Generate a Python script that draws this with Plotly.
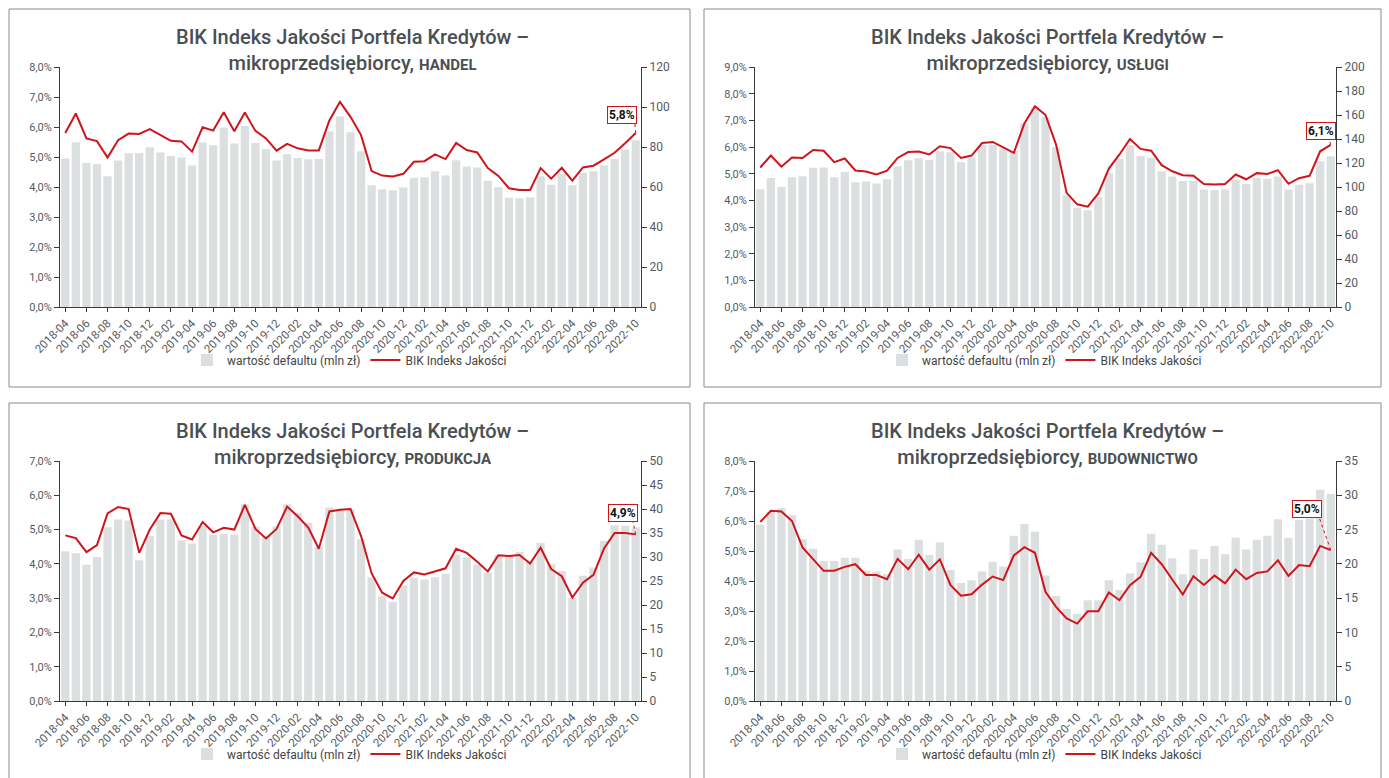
import plotly.graph_objects as go

W, H = 1389, 778

months = []
for y in range(2018, 2023):
    for m in range(1, 13):
        if (y == 2018 and m < 4) or (y == 2022 and m > 10):
            continue
        months.append(f"{y}-{m:02d}")
tick_labels = months[::2]

handel_bars = [74.2, 82.4, 72.0, 71.5, 65.4, 73.2, 76.9, 77.0, 79.9, 77.2, 75.5, 74.7, 70.7, 82.2,
               80.9, 89.7, 81.7, 90.5, 82.0, 79.0, 73.2, 76.4, 74.5, 73.9, 74.0, 87.9, 95.3, 87.4,
               77.9, 60.9, 58.9, 58.4, 59.7, 64.6, 64.9, 67.9, 65.7, 73.4, 70.2, 69.7, 63.1, 59.9,
               54.6, 54.4, 54.9, 65.4, 61.1, 66.6, 60.9, 67.1, 67.9, 70.9, 74.0, 78.9, 83.4]
handel_idx = [5.80, 6.45, 5.62, 5.53, 4.98, 5.56, 5.78, 5.77, 5.93, 5.74, 5.54, 5.52, 5.18, 5.99,
              5.88, 6.49, 5.86, 6.48, 5.87, 5.62, 5.21, 5.44, 5.29, 5.22, 5.22, 6.22, 6.84, 6.34,
              5.73, 4.53, 4.38, 4.35, 4.44, 4.84, 4.86, 5.09, 4.93, 5.47, 5.23, 5.15, 4.63, 4.37,
              3.96, 3.90, 3.90, 4.63, 4.28, 4.64, 4.21, 4.65, 4.71, 4.92, 5.14, 5.46, 5.80]

uslugi_bars = [98.2, 107.4, 99.9, 108.2, 109.0, 116.0, 116.2, 108.2, 112.6, 104.0, 104.6, 102.9, 106.5, 117.3,
               122.3, 124.0, 122.6, 129.8, 129.0, 120.7, 124.3, 134.8, 135.1, 132.3, 130.1, 153.1, 166.4, 158.4,
               132.9, 93.2, 82.7, 80.7, 91.8, 111.8, 123.4, 134.8, 125.9, 124.3, 113.2, 108.7, 105.1, 105.1,
               97.9, 97.4, 97.9, 106.2, 102.4, 107.6, 106.8, 108.7, 97.9, 101.8, 103.2, 121.5, 125.7]
uslugi_idx = [5.23, 5.68, 5.26, 5.61, 5.59, 5.89, 5.86, 5.43, 5.57, 5.12, 5.08, 4.97, 5.11, 5.59,
              5.81, 5.83, 5.72, 6.03, 5.96, 5.59, 5.68, 6.15, 6.19, 5.98, 5.78, 6.88, 7.53, 7.20,
              6.09, 4.28, 3.85, 3.76, 4.26, 5.19, 5.72, 6.30, 5.93, 5.86, 5.32, 5.09, 4.94, 4.92,
              4.61, 4.59, 4.61, 4.97, 4.79, 5.02, 4.99, 5.13, 4.62, 4.83, 4.92, 5.84, 6.08]

produkcja_bars = [31.2, 30.8, 28.4, 30.0, 36.2, 37.8, 37.6, 29.3, 34.4, 37.8, 37.8, 33.5, 32.8, 36.5,
                  34.6, 34.8, 34.7, 41.0, 36.3, 34.4, 36.4, 41.0, 39.2, 37.1, 32.1, 40.3, 39.8, 39.9,
                  33.7, 25.8, 21.8, 20.7, 24.1, 25.7, 25.3, 25.8, 26.5, 30.5, 29.9, 28.4, 26.7, 30.4,
                  30.2, 31.1, 29.1, 32.9, 28.5, 27.1, 21.5, 26.1, 27.8, 33.4, 36.6, 36.5, 36.2]
produkcja_idx = [4.83, 4.75, 4.34, 4.55, 5.47, 5.66, 5.60, 4.32, 5.00, 5.48, 5.46, 4.83, 4.71, 5.22,
                 4.92, 5.05, 5.00, 5.72, 5.02, 4.74, 5.02, 5.67, 5.39, 5.06, 4.44, 5.53, 5.58, 5.60,
                 4.81, 3.72, 3.16, 2.99, 3.50, 3.75, 3.69, 3.79, 3.87, 4.44, 4.32, 4.06, 3.78, 4.25,
                 4.23, 4.26, 4.01, 4.47, 3.85, 3.64, 3.02, 3.45, 3.68, 4.45, 4.90, 4.90, 4.86]

budownictwo_bars = [25.7, 27.6, 28.1, 27.1, 23.6, 22.2, 20.4, 20.4, 20.9, 20.9, 19.0, 18.9, 18.5, 22.1,
                    20.7, 23.5, 21.3, 23.1, 19.1, 17.2, 17.6, 18.9, 20.3, 19.6, 24.1, 25.8, 24.7, 18.3,
                    15.3, 13.4, 12.7, 14.7, 14.7, 17.6, 16.2, 18.6, 20.2, 24.4, 22.8, 20.8, 18.5, 22.1,
                    20.7, 22.6, 21.4, 23.8, 22.1, 23.5, 24.1, 26.5, 23.8, 26.4, 26.6, 30.8, 30.2]
budownictwo_idx = [5.97, 6.34, 6.32, 6.00, 5.12, 4.73, 4.34, 4.34, 4.47, 4.56, 4.20, 4.20, 4.06, 4.74,
                   4.39, 4.88, 4.38, 4.72, 3.87, 3.51, 3.56, 3.88, 4.15, 4.03, 4.85, 5.13, 4.94, 3.64,
                   3.14, 2.75, 2.58, 2.99, 2.99, 3.62, 3.36, 3.86, 4.14, 4.94, 4.56, 4.05, 3.55, 4.16,
                   3.87, 4.18, 3.92, 4.38, 4.06, 4.27, 4.32, 4.69, 4.17, 4.53, 4.49, 5.17, 5.03]

sectors = ["HANDEL", "USŁUGI", "PRODUKCJA", "BUDOWNICTWO"]
bar_name = "wartość defaultu (mln zł)"
line_name = "BIK Indeks Jakości"

FONT = "Roboto, 'DejaVu Sans', sans-serif"
BAR_COLOR = "#dcdfe0"
LINE_COLOR = "#d0141c"
TXT = "#555a5f"
AX = "#3a3a3a"

panels = [
    dict(bars=handel_bars, idx=handel_idx, pct_max=8, bar_max=120, bar_dtick=20,
         x0=60, x1=641, y0=67, y1=307, box=(9, 9, 690, 387), tcx=353, tcy=50, lcy=360,
         lab=(-14, 18), con=(-1, 11)),
    dict(bars=uslugi_bars, idx=uslugi_idx, pct_max=9, bar_max=200, bar_dtick=20,
         x0=755, x1=1336, y0=67, y1=307, box=(704, 9, 1381, 387), tcx=1047, tcy=50, lcy=360,
         lab=(-10, 14), con=(-2, 8)),
    dict(bars=produkcja_bars, idx=produkcja_idx, pct_max=7, bar_max=50, bar_dtick=5,
         x0=60, x1=641, y0=461, y1=701, box=(9, 403, 690, 800), tcx=353, tcy=444, lcy=754,
         lab=(-13, 21), con=(-3, 14)),
    dict(bars=budownictwo_bars, idx=budownictwo_idx, pct_max=8, bar_max=35, bar_dtick=5,
         x0=755, x1=1336, y0=461, y1=701, box=(704, 403, 1381, 800), tcx=1047, tcy=444, lcy=754,
         lab=(-24, 41), con=(-12, 34)),
]

def px(x):
    return x / W

def py(y):
    return 1 - y / H

fig = go.Figure()
layout = dict(
    width=W, height=H, margin=dict(l=0, r=0, t=0, b=0, pad=0, autoexpand=False),
    paper_bgcolor="white", plot_bgcolor="white",
    font=dict(family=FONT, size=11, color=TXT),
    separators=", ", bargap=0.22, showlegend=True,
)
annotations = []
shapes = []

for k, p in enumerate(panels, start=1):
    xa = "x" if k == 1 else f"x{k}"
    yb = "y" if k == 1 else f"y{2*k-1}"
    yl = f"y{2*k}"
    leg = "legend" if k == 1 else f"legend{k}"

    fig.add_trace(go.Bar(x=months, y=p["bars"], name=bar_name, marker_color=BAR_COLOR,
                         marker_line_width=0, xaxis=xa, yaxis=yb, legend=leg))
    fig.add_trace(go.Scatter(x=months, y=p["idx"], name=line_name, mode="lines",
                             line=dict(color=LINE_COLOR, width=2), xaxis=xa, yaxis=yl, legend=leg))

    xname = "xaxis" if k == 1 else f"xaxis{k}"
    ybname = "yaxis" if k == 1 else f"yaxis{2*k-1}"
    ylname = f"yaxis{2*k}"
    layout[xname] = dict(domain=[px(p["x0"]), px(p["x1"])], anchor=yb, type="category",
                         categoryorder="array", categoryarray=months,
                         tickmode="array", tickvals=tick_labels, ticktext=tick_labels,
                         tickangle=-45, showline=True, linecolor=AX, linewidth=1,
                         ticks="outside", ticklen=4, tickcolor=AX, showgrid=False,
                         automargin=False, tickfont=dict(size=11.5, color=TXT), fixedrange=True)
    layout[ybname] = dict(domain=[py(p["y1"]), py(p["y0"])], anchor=xa, side="right",
                          range=[0, p["bar_max"]], dtick=p["bar_dtick"], tick0=0,
                          showline=True, linecolor=AX, linewidth=1, ticks="outside",
                          ticklen=5, tickcolor=AX, showgrid=False, zeroline=False,
                          automargin=False, tickfont=dict(size=12, color=TXT))
    layout[ylname] = dict(overlaying=yb, anchor=xa, side="left",
                          range=[0, p["pct_max"]], dtick=1, tick0=0, tickformat=".1f",
                          ticksuffix="%", showline=True, linecolor=AX, linewidth=1,
                          ticks="outside", ticklen=5, tickcolor=AX, showgrid=False,
                          zeroline=False, automargin=False, tickfont=dict(size=11, color=TXT))
    layout[leg] = dict(orientation="h", x=px((p["x0"] + p["x1"]) / 2 - 1), y=py(p["lcy"]),
                       xanchor="center", yanchor="middle", bgcolor="rgba(0,0,0,0)",
                       font=dict(size=12, color="#444"), itemwidth=30,
                       traceorder="normal", tracegroupgap=0)

    bx0, by0, bx1, by1 = p["box"]
    shapes.append(dict(type="rect", xref="paper", yref="paper", x0=px(bx0), x1=px(bx1),
                       y0=py(by1), y1=py(by0), line=dict(color="#8a8a8a", width=1),
                       fillcolor="rgba(0,0,0,0)", layer="above"))

    annotations.append(dict(
        xref="paper", yref="paper", x=px(p["tcx"]), y=py(p["tcy"]),
        xanchor="center", yanchor="middle", showarrow=False, align="center",
        text=("BIK Indeks Jakości Portfela Kredytów –<br>mikroprzedsiębiorcy, "
              f"<b><span style='font-size:15px'>{sectors[k-1]}</span></b>"),
        font=dict(family=FONT, size=20, color="#4a4f54", weight=500)))

    last_x = months[-1]
    last_v = p["idx"][-1]
    label = f"{last_v:.1f}".replace(".", ",") + "%"
    dx, dy = p["lab"]
    cx, cy = p["con"]
    shapes.append(dict(type="line", xref=xa, yref=yl, xsizemode="pixel", ysizemode="pixel",
                       xanchor=last_x, yanchor=last_v, x0=0, y0=0, x1=cx, y1=cy,
                       line=dict(color=LINE_COLOR, width=1, dash="dot")))
    annotations.append(dict(xref=xa, yref=yl, x=last_x, y=last_v, xshift=dx, yshift=dy,
                            showarrow=False, text=f"<b>{label}</b>",
                            font=dict(family=FONT, size=12, color="#111"),
                            bgcolor="white", bordercolor=LINE_COLOR, borderwidth=1, borderpad=1))

layout["annotations"] = annotations
layout["shapes"] = shapes
fig.update_layout(**layout)

fig.write_html("out.html", config={"displayModeBar": False},
               post_script="document.body.style.margin='0';")
